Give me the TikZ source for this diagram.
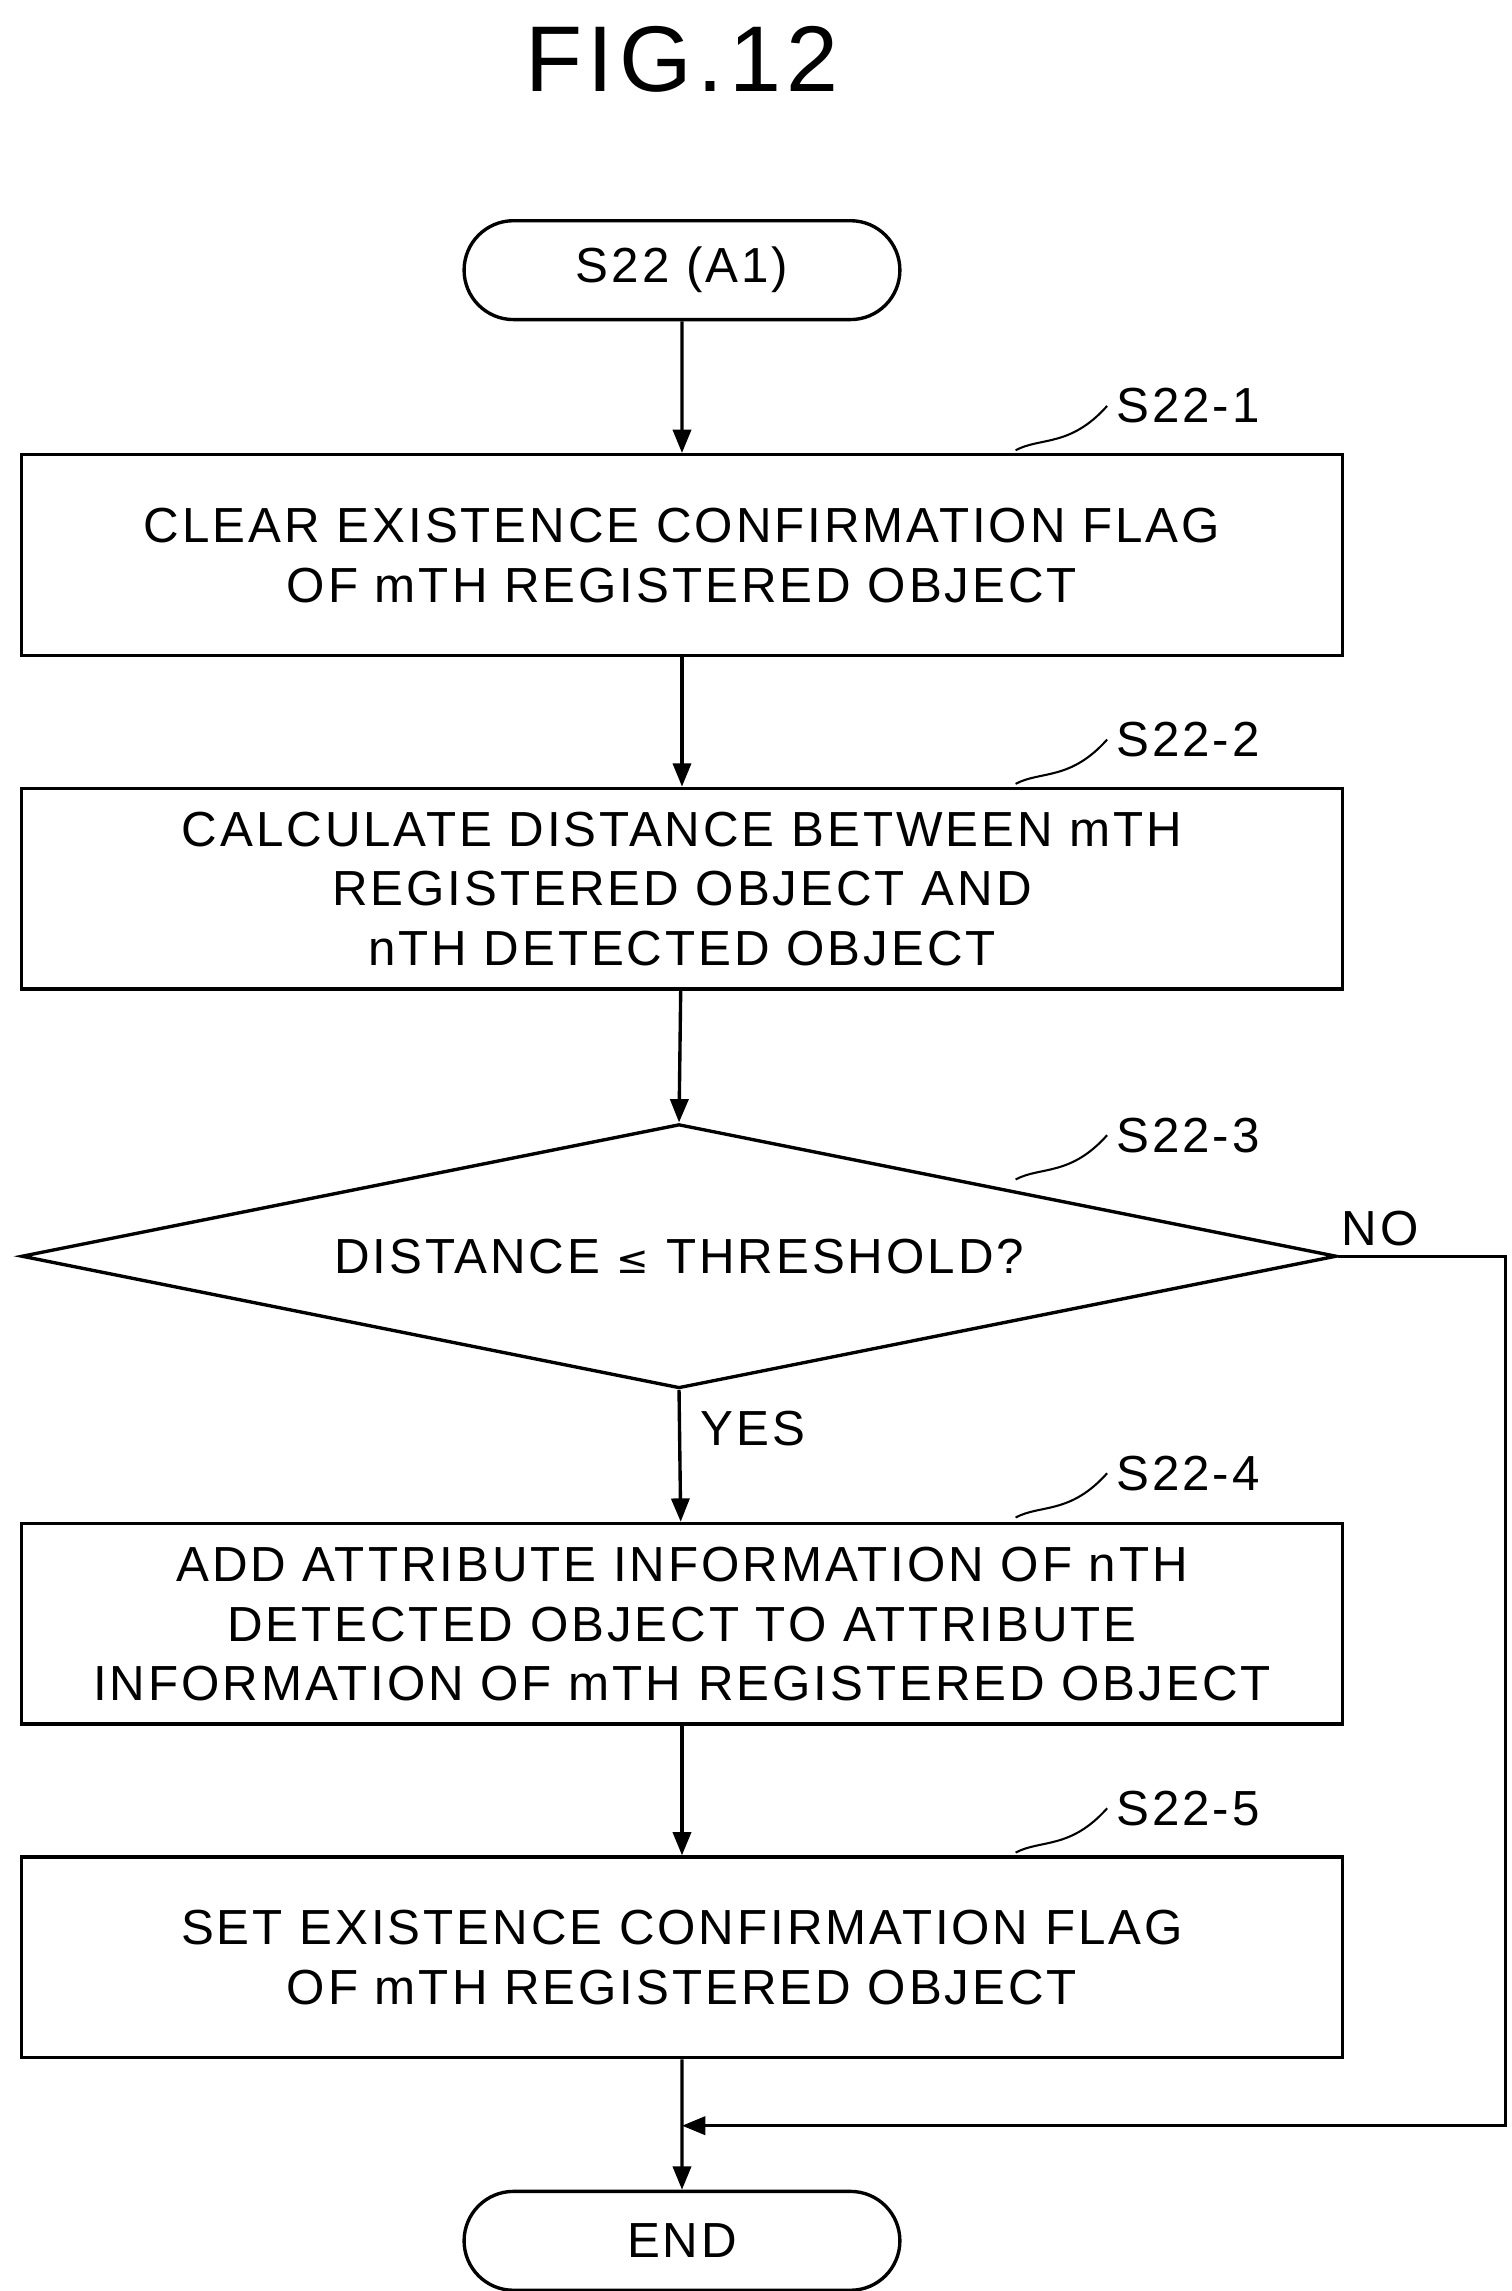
\documentclass[tikz,border=0pt]{standalone}
\usepackage{fontspec}
\setmainfont{Liberation Sans}[LetterSpace=6]
\usetikzlibrary{shapes.geometric,shapes.misc,arrows.meta}
\begin{document}
\begin{tikzpicture}[x=0.02cm,y=-0.02cm,
  box/.style={draw,line width=1.3pt,minimum width=17.9cm,minimum height=2.72cm,align=center,font=\fontsize{19}{23}\selectfont,text depth=0pt},
  term/.style={draw,line width=1.3pt,rounded rectangle,minimum width=6.14cm,minimum height=1.34cm,font=\fontsize{19}{23}\selectfont},
  arr/.style={line width=1.3pt,-{Triangle[length=9pt,width=7pt]}},
  lab/.style={font=\fontsize{19}{23}\selectfont},
  sq/.style={line width=0.8pt}]
\useasboundingbox (0,0) rectangle (1024,1552);
\node[font=\fontsize{36}{40}\selectfont] (title) at (462,40) {FIG.12};
\node[term] (s) at (462,183) {S22 (A1)};
\node[box] (b1) at (462,376) {CLEAR EXISTENCE CONFIRMATION FLAG\\OF mTH REGISTERED OBJECT};
\node[box] (b2) at (462,602) {CALCULATE DISTANCE BETWEEN mTH\\REGISTERED OBJECT AND\\nTH DETECTED OBJECT};
\node[draw,line width=1.3pt,diamond,aspect=4.98,minimum width=17.82cm,minimum height=3.58cm,inner sep=0pt,font=\fontsize{19}{23}\selectfont] (d) at (460,851) {};
\node[lab] (dt) at (460,851) {DISTANCE {\fontspec{DejaVu Sans}\fontsize{15}{19}\selectfont ≤} THRESHOLD?};
\node[box] (b4) at (462,1100) {ADD ATTRIBUTE INFORMATION OF nTH\\DETECTED OBJECT TO ATTRIBUTE\\INFORMATION OF mTH REGISTERED OBJECT};
\node[box] (b5) at (462,1326) {SET EXISTENCE CONFIRMATION FLAG\\OF mTH REGISTERED OBJECT};
\node[term] (e) at (462,1518) {END};
\draw[arr] (s) -- (b1);
\draw[arr] (b1) -- (b2);
\draw[arr] (b2) -- (d.north);
\draw[arr] (d.south) -- (b4);
\draw[arr] (b4) -- (b5);
\draw[arr] (b5) -- (e);
\coordinate (c1) at (1020,851);
\coordinate (c2) at (1020,1440);
\coordinate (c3) at (462,1440);
\draw[arr] (d.east) -- (c1) -- (c2) -- (c3);
\node[lab] (no) at (935,832) {NO};
\node[lab] (yes) at (510,968) {YES};
\foreach \n/\y in {1/308,2/534,3/802,4/1031,5/1258}{
  \node[lab,anchor=west] (l\n) at (750,{\y-33}) {S22-\n};
  \draw[sq] (688,{\y-3}) .. controls (705,{\y-12}) and (725,{\y-5}) .. (l\n.west);
}
\end{tikzpicture}
\end{document}
